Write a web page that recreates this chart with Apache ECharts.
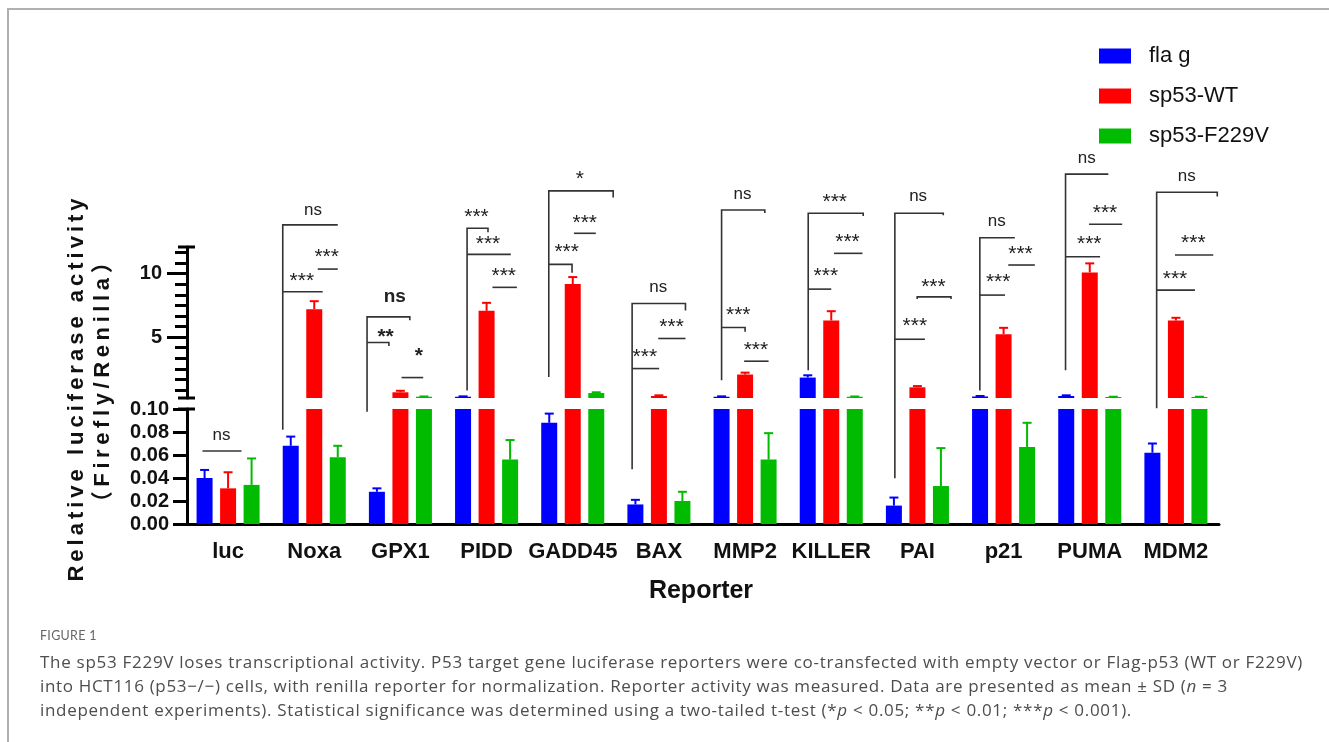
<!DOCTYPE html>
<html>
<head>
<meta charset="utf-8">
<script src="https://cdn.jsdelivr.net/npm/echarts@6/dist/echarts.min.js"></script>
<style>
  html, body { margin: 0; padding: 0; background: #fff; }
  #wrap { position: relative; width: 1329px; height: 742px; overflow: hidden; background: #fff; }
  #chart { position: absolute; left: 0; top: 0; width: 1329px; height: 742px; }
  .ytitle { position: absolute; white-space: nowrap; transform: translate(-50%, -50%) rotate(-90deg);
            font-family: 'Liberation Sans', Arial, 'Noto Sans CJK SC', sans-serif; font-weight: bold;
            font-size: 22px; letter-spacing: 4px; color: #111; line-height: 1; }
  .figlabel { position: absolute; left: 40px; top: 628px; font-family: Lato, 'Open Sans', sans-serif;
              font-size: 12.5px; color: #666; letter-spacing: 0.3px; }
  .capline { position: absolute; left: 40px; white-space: nowrap; font-family: 'Open Sans', Lato, sans-serif;
             font-size: 17px; color: #4d4d4d; line-height: 1; }
</style>
</head>
<body>
<div id="wrap">
  <div id="chart"></div>
  <div class="ytitle" style="left:76px; top:388px;">Relative luciferase activity</div>
  <div class="ytitle" style="left:102px; top:380px; letter-spacing:4.6px;">（Firefly/Renilla）</div>
  <div class="figlabel">FIGURE 1</div>
  <div class="capline" data-end="1303" style="top:653px;">The sp53 F229V loses transcriptional activity. P53 target gene luciferase reporters were co-transfected with empty vector or Flag-p53 (WT or F229V)</div>
  <div class="capline" data-end="1228" style="top:677px;">into HCT116 (p53−/−) cells, with renilla reporter for normalization. Reporter activity was measured. Data are presented as mean ± SD (<i>n</i> = 3</div>
  <div class="capline" data-end="1132" style="top:701px;">independent experiments). Statistical significance was determined using a two-tailed t-test (*<i>p</i> &lt; 0.05; **<i>p</i> &lt; 0.01; ***<i>p</i> &lt; 0.001).</div>
</div>
<script>
// ---------------- data ----------------
const categories = ['luc', 'Noxa', 'GPX1', 'PIDD', 'GADD45', 'BAX', 'MMP2', 'KILLER', 'PAI', 'p21', 'PUMA', 'MDM2'];
const seriesNames = ['fla g', 'sp53-WT', 'sp53-F229V'];

const flagMean = [0.040, 0.068, 0.028, 0.30, 0.088, 0.017, 0.30, 1.81, 0.016, 0.32, 0.36, 0.062];
const flagSD   = [0.007, 0.008, 0.003, 0.03, 0.008, 0.004, 0.03, 0.18, 0.007, 0.04, 0.05, 0.008];
const wtMean   = [0.031, 7.20, 0.65, 7.07, 9.18, 0.36, 2.05, 6.31, 1.04, 5.23, 10.10, 6.31];
const wtSD     = [0.014, 0.63, 0.12, 0.63, 0.55, 0.05, 0.15, 0.73, 0.10, 0.50, 0.71, 0.21];
const mutMean  = [0.034, 0.058, 0.30, 0.056, 0.59, 0.020, 0.056, 0.30, 0.033, 0.067, 0.28, 0.28];
const mutSD    = [0.023, 0.010, 0.02, 0.017, 0.06, 0.008, 0.023, 0.02, 0.033, 0.021, 0.02, 0.02];

const lowTickValues = [0, 0.02, 0.04, 0.06, 0.08, 0.10];
const highTickValues = [5, 10];
const highMinorTickValues = [0.83, 1.67, 2.5, 3.33, 4.17, 5.83, 6.67, 7.5, 8.33, 9.17, 10.83, 11.67];

// significance brackets: x in bar slots (-1 flag, 0 WT, 1 F229V), heights in axis units
// seg 'lo' = 0-0.10 segment, 'hi' = upper segment
const brackets = [
  {cat: 0,  x: [-1.09, 0.57], y: ['lo', 0.0635], label: 'ns',  lx: -0.28, ly: ['lo', 0.0774]},
  {cat: 1,  x: [-1.34, 1.00], y: ['hi', 13.84], l: ['lo', 0.082], label: 'ns', lx: -0.05, ly: ['hi', 15.02]},
  {cat: 1,  x: [-1.34, 0.36], y: ['hi', 8.57],  label: '***', lx: -0.53, ly: ['hi', 9.73]},
  {cat: 1,  x: [0.15, 1.00],  y: ['hi', 10.36], label: '***', lx: 0.53,  ly: ['hi', 11.63]},
  {cat: 2,  x: [-1.42, 0.40], y: ['hi', 6.59], l: ['lo', 0.0977], r: ['hi', 6.33], label: 'ns', bold: true, lx: -0.24, ly: ['hi', 8.17]},
  {cat: 2,  x: [-1.42, -0.49], y: ['hi', 4.57], r: ['hi', 4.30], label: '**', bold: true, lx: -0.63, ly: ['hi', 5.33]},
  {cat: 2,  x: [0.05, 0.97],  y: ['hi', 1.81], label: '*', bold: true, lx: 0.78, ly: ['hi', 3.89]},
  {cat: 3,  x: [-0.83, 0.06], y: ['hi', 13.58], l: ['hi', 0.80], r: ['hi', 13.27], label: '***', lx: -0.43, ly: ['hi', 14.81]},
  {cat: 3,  x: [-0.83, 1.03], y: ['hi', 11.52], label: '***', lx: 0.06, ly: ['hi', 12.71]},
  {cat: 3,  x: [0.25, 1.29],  y: ['hi', 8.92],  label: '***', lx: 0.73, ly: ['hi', 10.15]},
  {cat: 4,  x: [-1.02, 1.72], y: ['hi', 16.52], l: ['hi', 1.86], r: ['hi', 16.0], label: '*', lx: 0.30, ly: ['hi', 17.79]},
  {cat: 4,  x: [0.05, 0.98],  y: ['hi', 13.18], label: '***', lx: 0.51, ly: ['hi', 14.37]},
  {cat: 4,  x: [-1.02, -0.03], y: ['hi', 10.73], r: ['hi', 10.07], label: '***', lx: -0.26, ly: ['hi', 12.04]},
  {cat: 5,  x: [-1.14, 1.13], y: ['hi', 7.65], l: ['lo', 0.0476], r: ['hi', 7.10], label: 'ns', lx: -0.03, ly: ['hi', 8.92]},
  {cat: 5,  x: [-0.03, 1.13], y: ['hi', 4.89], label: '***', lx: 0.54, ly: ['hi', 6.12]},
  {cat: 5,  x: [-1.14, 0.01], y: ['hi', 2.52], label: '***', lx: -0.60, ly: ['hi', 3.75]},
  {cat: 6,  x: [-1.00, 0.84], y: ['hi', 15.02], l: ['hi', 1.59], r: ['hi', 14.78], label: 'ns', lx: -0.11, ly: ['hi', 16.29]},
  {cat: 6,  x: [-1.00, 0.00], y: ['hi', 5.76], r: ['hi', 5.42], label: '***', lx: -0.29, ly: ['hi', 7.07]},
  {cat: 6,  x: [-0.04, 1.00], y: ['hi', 3.10], label: '***', lx: 0.46, ly: ['hi', 4.30]},
  {cat: 7,  x: [-0.98, 1.36], y: ['hi', 14.76], l: ['hi', 2.38], r: ['hi', 14.55], label: '***', lx: 0.15, ly: ['hi', 16.03]},
  {cat: 7,  x: [0.12, 1.33],  y: ['hi', 11.60], label: '***', lx: 0.69, ly: ['hi', 12.87]},
  {cat: 7,  x: [-0.98, 0.00], y: ['hi', 8.78], label: '***', lx: -0.23, ly: ['hi', 10.15]},
  {cat: 8,  x: [-0.96, 1.10], y: ['hi', 14.76], l: ['lo', 0.0397], r: ['hi', 14.60], label: 'ns', lx: 0.03, ly: ['hi', 16.07]},
  {cat: 8,  x: [-0.01, 1.43], y: ['hi', 8.17], l: ['hi', 8.0], r: ['hi', 8.0], label: '***', lx: 0.68, ly: ['hi', 9.28]},
  {cat: 8,  x: [-0.96, 0.32], y: ['hi', 4.83], label: '***', lx: -0.11, ly: ['hi', 6.20]},
  {cat: 9,  x: [-1.01, 0.48], y: ['hi', 12.83], l: ['hi', 0.80], label: 'ns', lx: -0.29, ly: ['hi', 14.10]},
  {cat: 9,  x: [0.20, 1.33],  y: ['hi', 10.68], label: '***', lx: 0.72, ly: ['hi', 11.92]},
  {cat: 9,  x: [-1.01, 0.06], y: ['hi', 8.31], label: '***', lx: -0.23, ly: ['hi', 9.68]},
  {cat: 10, x: [-1.03, 0.79], y: ['hi', 17.84], l: ['hi', 2.38], label: 'ns', lx: -0.13, ly: ['hi', 19.11]},
  {cat: 10, x: [-0.03, 1.38], y: ['hi', 13.89], label: '***', lx: 0.65, ly: ['hi', 15.10]},
  {cat: 10, x: [-1.03, 0.44], y: ['hi', 11.33], label: '***', lx: -0.02, ly: ['hi', 12.71]},
  {cat: 11, x: [-0.82, 1.76], y: ['hi', 16.42], l: ['lo', 0.1006], r: ['hi', 16.08], label: 'ns', lx: 0.46, ly: ['hi', 17.71]},
  {cat: 11, x: [-0.04, 1.59], y: ['hi', 11.47], label: '***', lx: 0.74, ly: ['hi', 12.73]},
  {cat: 11, x: [-0.82, 0.81], y: ['hi', 8.70], label: '***', lx: -0.04, ly: ['hi', 9.94]}
];

// ---------------- styling / layout ----------------
const COLORS = ['#0000ff', '#ff0000', '#00bb00'];
const BAR_W = 16;
const SLOT = 23.5;
const GRID_LEFT = 185, GRID_W = 1034;
const AXIS_FONT = "'Liberation Sans', Arial, sans-serif";

const means = [flagMean, wtMean, mutMean];
const sds = [flagSD, wtSD, mutSD];

// fit caption lines to their measured right edges
document.querySelectorAll('.capline').forEach(el => {
  const target = parseFloat(el.dataset.end) - 40;
  const w = el.getBoundingClientRect().width;
  const n = el.textContent.length;
  el.style.letterSpacing = ((target - w) / n).toFixed(3) + 'px';
});

const chart = echarts.init(document.getElementById('chart'), null, {renderer: 'canvas'});

function errorSeries(s, grid) {
  return {
    type: 'custom',
    name: 'err' + s + '_' + grid,
    xAxisIndex: grid, yAxisIndex: grid,
    clip: true, z: 5, silent: true,
    data: means[s].map((m, i) => [i, m, sds[s][i]]),
    encode: {x: 0, y: 1},
    renderItem: function (params, api) {
      const i = api.value(0), m = api.value(1), sd = api.value(2);
      const p0 = api.coord([i, m]);
      const p1 = api.coord([i, m + sd]);
      const x = p0[0] + (s - 1) * SLOT;
      const st = {stroke: COLORS[s], lineWidth: 2};
      return {type: 'group', children: [
        {type: 'line', shape: {x1: x, y1: p0[1], x2: x, y2: p1[1]}, style: st},
        {type: 'line', shape: {x1: x - 4.5, y1: p1[1], x2: x + 4.5, y2: p1[1]}, style: st}
      ]};
    }
  };
}

const series = [];
for (let s = 0; s < 3; s++) {
  for (let g = 0; g < 2; g++) {
    series.push({
      type: 'bar', name: seriesNames[s], xAxisIndex: g, yAxisIndex: g,
      data: means[s], barWidth: BAR_W, barGap: '47%', clip: true,
      itemStyle: {color: COLORS[s]}, silent: true
    });
  }
}
for (let s = 0; s < 3; s++) { series.push(errorSeries(s, 0)); series.push(errorSeries(s, 1)); }

const blackLine = {color: '#000', width: 3};

const option = {
  animation: false,
  backgroundColor: '#fff',
  legend: {
    data: seriesNames, orient: 'vertical', left: 1099, top: 45, padding: 0,
    itemWidth: 32, itemHeight: 15, itemGap: 18, icon: 'rect', selectedMode: false,
    textStyle: {fontFamily: AXIS_FONT, fontSize: 22, color: '#111', lineHeight: 22, padding: [0, 0, 0, 13]}
  },
  grid: [
    {left: GRID_LEFT, width: GRID_W, top: 409, height: 115},
    {left: GRID_LEFT, width: GRID_W, top: 247, height: 151}
  ],
  xAxis: [
    {
      type: 'category', gridIndex: 0, data: categories,
      axisLine: {lineStyle: blackLine},
      axisTick: {alignWithLabel: true, length: 12, lineStyle: blackLine},
      axisLabel: {interval: 0, fontFamily: AXIS_FONT, fontWeight: 'bold', fontSize: 22, color: '#111', margin: 17}
    },
    {type: 'category', gridIndex: 1, data: categories, show: false}
  ],
  yAxis: [
    {
      type: 'value', gridIndex: 0, min: 0, max: 0.1, interval: 0.02, offset: -2,
      axisLine: {show: true, lineStyle: blackLine},
      axisTick: {show: true, length: 14, customValues: lowTickValues, lineStyle: blackLine},
      axisLabel: {customValues: lowTickValues, formatter: v => v.toFixed(2), fontFamily: AXIS_FONT, fontWeight: 'bold', fontSize: 20, color: '#111', margin: 18},
      splitLine: {show: false}
    },
    {
      type: 'value', gridIndex: 1, min: 0.2, max: 12.1, offset: -2,
      axisLine: {show: true, lineStyle: blackLine},
      axisTick: {show: true, length: 20, customValues: highTickValues, lineStyle: blackLine},
      axisLabel: {customValues: highTickValues, fontFamily: AXIS_FONT, fontWeight: 'bold', fontSize: 20, color: '#111', margin: 25},
      splitLine: {show: false}
    },
    {
      type: 'value', gridIndex: 1, min: 0.2, max: 12.1, offset: -2, position: 'left',
      axisLine: {show: false},
      axisTick: {show: true, length: 12, customValues: highMinorTickValues, lineStyle: blackLine},
      axisLabel: {show: false},
      splitLine: {show: false}
    }
  ],
  series: series
};

chart.setOption(option);

// ---------------- annotation graphics (positions via the chart's own scales) ----------------
function toPx(seg, cat, v) {
  return chart.convertToPixel({gridIndex: seg === 'lo' ? 0 : 1}, [cat, v]);
}
const elements = [];
const ink = '#333';

// frame
elements.push({type: 'line', shape: {x1: 7, y1: 9, x2: 1329, y2: 9}, style: {stroke: '#b0b0b0', lineWidth: 2}, z: 100});
elements.push({type: 'line', shape: {x1: 8, y1: 8, x2: 8, y2: 742}, style: {stroke: '#b0b0b0', lineWidth: 2}, z: 100});

// break caps on the y axis
const yAxisX = GRID_LEFT + 2;
const capPts = [toPx('hi', 0, 12.1), toPx('hi', 0, 0.2), toPx('lo', 0, 0.1)];
capPts.forEach(p => {
  elements.push({type: 'line', shape: {x1: yAxisX - 9, y1: p[1], x2: yAxisX + 8, y2: p[1]}, style: {stroke: '#000', lineWidth: 3}, z: 100});
});

brackets.forEach(b => {
  const base = toPx(b.y[0], b.cat, b.y[1]);
  const cx = base[0];
  const x1 = cx + b.x[0] * SLOT, x2 = cx + b.x[1] * SLOT;
  const pts = [];
  if (b.l) pts.push([x1, toPx(b.l[0], b.cat, b.l[1])[1]]);
  pts.push([x1, base[1]]);
  pts.push([x2, base[1]]);
  if (b.r) pts.push([x2, toPx(b.r[0], b.cat, b.r[1])[1]]);
  elements.push({type: 'polyline', shape: {points: pts}, style: {stroke: ink, lineWidth: 1.6, fill: null}, z: 100});
  const lp = toPx(b.ly[0], b.cat, b.ly[1]);
  const isStar = b.label.indexOf('*') >= 0;
  const fs = isStar ? 21 : (b.bold ? 19 : 17);
  elements.push({
    type: 'text', z: 100,
    x: cx + b.lx * SLOT, y: lp[1] + (isStar ? fs * 0.22 : 0),
    style: {text: b.label, fill: '#222', font: (b.bold ? 'bold ' : '') + fs + 'px ' + AXIS_FONT,
            textAlign: 'center', textVerticalAlign: 'middle'}
  });
});

// x axis title
elements.push({type: 'text', z: 100, x: 701, y: 591,
  style: {text: 'Reporter', fill: '#111', font: 'bold 25px ' + AXIS_FONT, textAlign: 'center', textVerticalAlign: 'middle'}});

chart.setOption({graphic: {elements: elements}});
</script>
</body>
</html>
